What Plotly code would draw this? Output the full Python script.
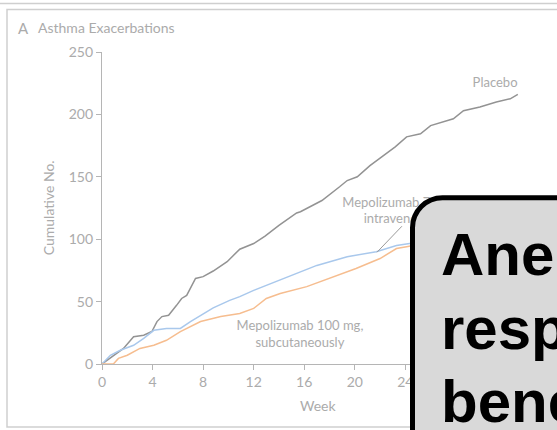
import plotly.graph_objects as go

# Cumulative asthma exacerbations by week
placebo_week = [0, 0.9, 1.7, 2.5, 3.3, 3.95, 4.35, 4.74, 5.27, 5.9, 6.3, 6.7, 7.4, 8.0, 8.8,
                9.9, 10.9, 12.0, 12.9, 14.0, 15.4, 15.7, 17.4, 18.8, 19.4, 20.2, 21.2, 22.0,
                23.2, 24.1, 25.2, 26.0, 27.8, 28.6, 29.9, 31.2, 32.3, 32.9]
placebo_count = [0, 7, 12.5, 21.9, 23, 26, 34, 38, 39, 47, 52.5, 55, 68.5, 70, 74.5,
                 82, 92, 96.5, 102.5, 111, 121, 122, 131, 142, 147, 150, 159, 165,
                 174, 182, 184.5, 191, 196.5, 203, 206, 210, 212.5, 216]

iv_week = [0, 0.66, 1.45, 2.5, 3.3, 4.1, 5.1, 6.2, 7.0, 7.8, 8.8, 10.1, 10.9, 12.0, 13.0,
           14.1, 17.0, 19.4, 21.7, 23.3, 24.1, 24.6]
iv_count = [0, 7, 11, 15, 20.5, 27, 28.5, 28.5, 34, 39, 45, 51, 54, 59, 63,
            67, 79, 86, 90, 95, 96, 97]

sc_week = [0, 0.9, 1.3, 2.0, 3.0, 4.1, 5.1, 6.2, 7.8, 9.4, 10.9, 12.0, 13.0, 14.1, 16.2,
           18.0, 20.1, 22.0, 23.3, 24.1, 24.6]
sc_count = [0, 0, 4.5, 7, 12.5, 15, 19, 26, 34, 38, 40.5, 44.5, 52.5, 56.5, 62,
            68.5, 76.5, 84.5, 92.5, 94, 95]

x_ticks = [0, 4, 8, 12, 16, 20, 24]
y_ticks = [0, 50, 100, 150, 200, 250]

W, H = 557, 430
ML, MT, MB = 102, 51.5, 66
PW, PH = W - ML, H - MT - MB

GREY_TXT = "#ababab"
AXIS = "#b5b5b5"
FONT = "Lato"


def px(x):
    return (x - ML) / PW


def py(y):
    return (H - MB - y) / PH


fig = go.Figure()

fig.add_trace(go.Scatter(x=placebo_week, y=placebo_count, mode="lines",
                         line=dict(color="#939393", width=1.5), showlegend=False))
fig.add_trace(go.Scatter(x=iv_week, y=iv_count, mode="lines",
                         line=dict(color="#a9c8ec", width=1.5), showlegend=False))
fig.add_trace(go.Scatter(x=sc_week, y=sc_count, mode="lines",
                         line=dict(color="#f6bd8f", width=1.5), showlegend=False))

# leader line for the intravenous label
fig.add_trace(go.Scatter(x=[23.73, 21.76], y=[110.4, 89.6], mode="lines",
                         line=dict(color="#9a9a9a", width=1), showlegend=False))

# series labels (as text traces so the callout box can sit above them)
fig.add_trace(go.Scatter(
    x=[31.1, 23.73, 15.66], y=[224.8, 122, 23.2], mode="text",
    text=["Placebo", "Mepolizumab 75 mg,<br>intravenously", "Mepolizumab 100 mg,<br>subcutaneously"],
    textposition="middle center",
    textfont=dict(family=FONT, size=13, color=GREY_TXT),
    cliponaxis=False, showlegend=False))

fig.update_xaxes(range=[0, 36], tickvals=x_ticks, ticktext=[str(v) for v in x_ticks],
                 showgrid=False, zeroline=False, showline=True, linecolor=AXIS, linewidth=1.2,
                 ticks="outside", ticklen=5, tickcolor=AXIS, tickwidth=1.2,
                 tickfont=dict(family=FONT, size=14, color=GREY_TXT))
fig.update_yaxes(range=[0, 250], tickvals=y_ticks, showgrid=False, zeroline=False,
                 showline=True, linecolor=AXIS, linewidth=1.2,
                 ticks="outside", ticklen=5, tickcolor=AXIS, tickwidth=1.2,
                 tickfont=dict(family=FONT, size=14, color=GREY_TXT))

# outer frame
shapes = [
    dict(type="line", xref="paper", yref="paper", x0=px(0), x1=px(W), y0=py(3), y1=py(3),
         line=dict(color="#cfcfcf", width=1.5), layer="above"),
    dict(type="rect", xref="paper", yref="paper", x0=px(7), x1=px(W + 20), y0=py(427), y1=py(9),
         line=dict(color="#cfcfcf", width=1.5), layer="above"),
]

# rounded callout box
bx0, by0, bx1, by1, r = 412.5, 197.5, 620, 470, 30
k = 0.55 * r
pts = [
    f"M {px(bx0)},{py(by1)}",
    f"L {px(bx0)},{py(by0 + r)}",
    f"C {px(bx0)},{py(by0 + r - k)} {px(bx0 + r - k)},{py(by0)} {px(bx0 + r)},{py(by0)}",
    f"L {px(bx1)},{py(by0)}",
    f"L {px(bx1)},{py(by1)}",
    "Z",
]
shapes.append(dict(type="path", xref="paper", yref="paper", path=" ".join(pts),
                   fillcolor="#d9d9d9", line=dict(color="black", width=5), layer="above"))

annotations = [
    dict(text="A", x=px(16), y=py(27), xref="paper", yref="paper", xanchor="left",
         yanchor="middle", showarrow=False, font=dict(family=FONT, size=15, color=GREY_TXT)),
    dict(text="Asthma Exacerbations", x=px(36), y=py(27), xref="paper", yref="paper",
         xanchor="left", yanchor="middle", showarrow=False,
         font=dict(family=FONT, size=14, color=GREY_TXT)),
    dict(text="Cumulative No.", x=px(48), y=py(208), xref="paper", yref="paper",
         xanchor="center", yanchor="middle",
         textangle=-90, showarrow=False, font=dict(family=FONT, size=14, color=GREY_TXT)),
    dict(text="Week", x=px(318), y=py(406), xref="paper", yref="paper",
         xanchor="center", yanchor="middle",
         showarrow=False, font=dict(family=FONT, size=14, color=GREY_TXT)),
]

for word, ycen in [("Ane", 254), ("resp", 328), ("bene", 402)]:
    annotations.append(dict(text=f"<b>{word}</b>", x=px(439), y=py(ycen), xref="paper",
                            yref="paper", xanchor="left", yanchor="middle", showarrow=False,
                            font=dict(family="Liberation Sans", size=60, color="black")))

fig.update_layout(width=W, height=H, margin=dict(l=ML, r=0, t=MT, b=MB, autoexpand=False),
                  paper_bgcolor="white", plot_bgcolor="white",
                  shapes=shapes, annotations=annotations)

fig.write_html("out.html")
